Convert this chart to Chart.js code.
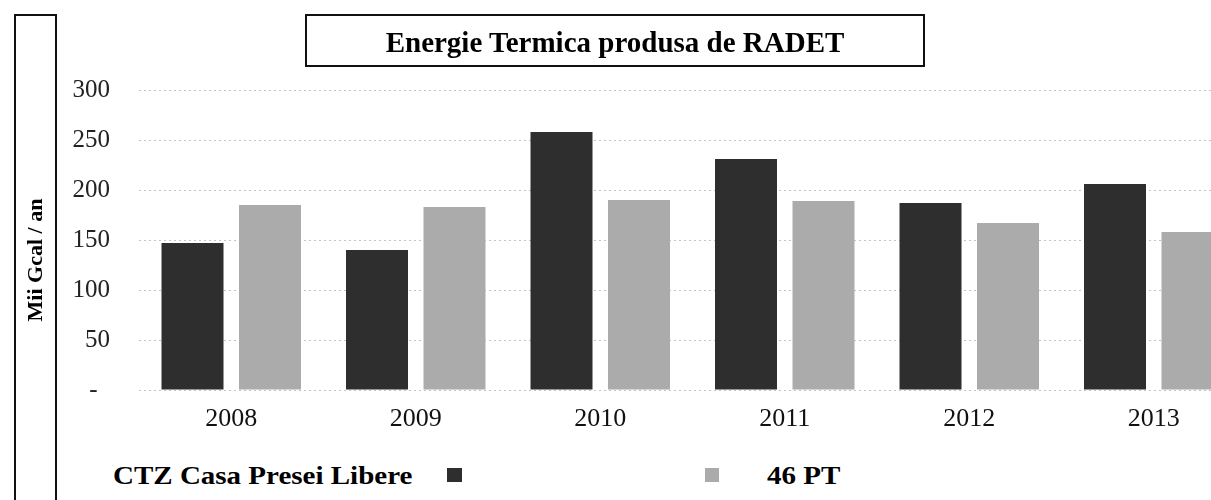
<!DOCTYPE html>
<html>
<head>
<meta charset="utf-8">
<script src="https://cdn.jsdelivr.net/npm/chart.js@4"></script>
<style>
  html, body { margin: 0; padding: 0; width: 1211px; height: 500px; overflow: hidden; background: #fff; }
  #wrap { position: absolute; left: 0; top: 0; width: 1246px; height: 440px; }
  .serif { font-family: 'Liberation Serif', 'DejaVu Serif', serif; font-weight: bold; color: #000; }
  #title { position: absolute; left: 305px; top: 14px; width: 620px; height: 53px; box-sizing: border-box;
           border: 2px solid #111; text-align: center; font-size: 29px; line-height: 46px; padding-top: 3px; white-space: nowrap; }
  #ybox { position: absolute; left: 14px; top: 14px; width: 43px; height: 520px; box-sizing: border-box;
          border: 2px solid #111; border-bottom: none; }
  #ytitle { position: absolute; left: -35px; top: 247px; width: 140px; height: 26px; text-align: center;
            font-size: 22px; line-height: 26px; transform: rotate(-90deg); transform-origin: 70px 13px; white-space: nowrap; }
  .leg { position: absolute; font-size: 25px; line-height: 25px; white-space: nowrap; transform: scaleX(1.16); transform-origin: 0 0; }
  .sw { position: absolute; width: 15px; height: 14px; }
</style>
</head>
<body>
<div id="wrap"><canvas id="c" width="1246" height="440"></canvas></div>
<div id="ybox"></div>
<div id="ytitle" class="serif">Mii Gcal / an</div>
<div id="title" class="serif">Energie Termica produsa de RADET</div>
<div id="leg1" class="leg serif" style="left:113px; top:463px;">CTZ Casa Presei Libere</div>
<div class="sw" style="left:447px; top:468px; background:#2e2e2e;"></div>
<div class="sw" style="left:705px; top:468px; width:14px; background:#ababab;"></div>
<div id="leg2" class="leg serif" style="left:767px; top:463px;">46 PT</div>
<script>
const categories = ['2008', '2009', '2010', '2011', '2012', '2013'];
const seriesNames = ['CTZ Casa Presei Libere', '46 PT'];
const ctzValues = [147, 140, 258, 231, 187, 206];
const ptValues = [185, 183, 190, 189, 167, 158];
const yTickValues = [0, 50, 100, 150, 200, 250, 300];
const yTickLabels = ['-  ', '50', '100', '150', '200', '250', '300'];

new Chart(document.getElementById('c'), {
  type: 'bar',
  data: {
    labels: categories,
    datasets: [
      { label: seriesNames[0], data: ctzValues, backgroundColor: '#2e2e2e', borderWidth: 0,
        categoryPercentage: 0.84, barPercentage: 0.8 },
      { label: seriesNames[1], data: ptValues, backgroundColor: '#ababab', borderWidth: 0,
        categoryPercentage: 0.84, barPercentage: 0.8 }
    ]
  },
  options: {
    responsive: false,
    animation: false,
    devicePixelRatio: 1,
    layout: { padding: { top: 90, left: 0, right: 0, bottom: 0 } },
    plugins: { legend: { display: false }, tooltip: { enabled: false }, title: { display: false } },
    scales: {
      x: {
        grid: { display: false, drawTicks: false },
        border: { display: false },
        ticks: { font: { family: "'Liberation Serif', serif", size: 26 }, color: '#111', padding: 14, maxRotation: 0 },
        afterFit: (s) => { s.height = 50; }
      },
      y: {
        min: 0, max: 300,
        afterBuildTicks: (s) => { s.ticks = yTickValues.map(v => ({ value: v })); },
        grid: { color: '#c4c4c4', lineWidth: 1, drawTicks: false },
        border: { display: false, dash: [2, 3] },
        ticks: {
          font: { family: "'Liberation Serif', serif", size: 25 }, color: '#222', padding: 29,
          callback: (v) => { const i = yTickValues.indexOf(v); return i >= 0 ? yTickLabels[i] : ''; }
        },
        afterFit: (s) => { s.width = 139; }
      }
    }
  }
});
</script>
</body>
</html>
